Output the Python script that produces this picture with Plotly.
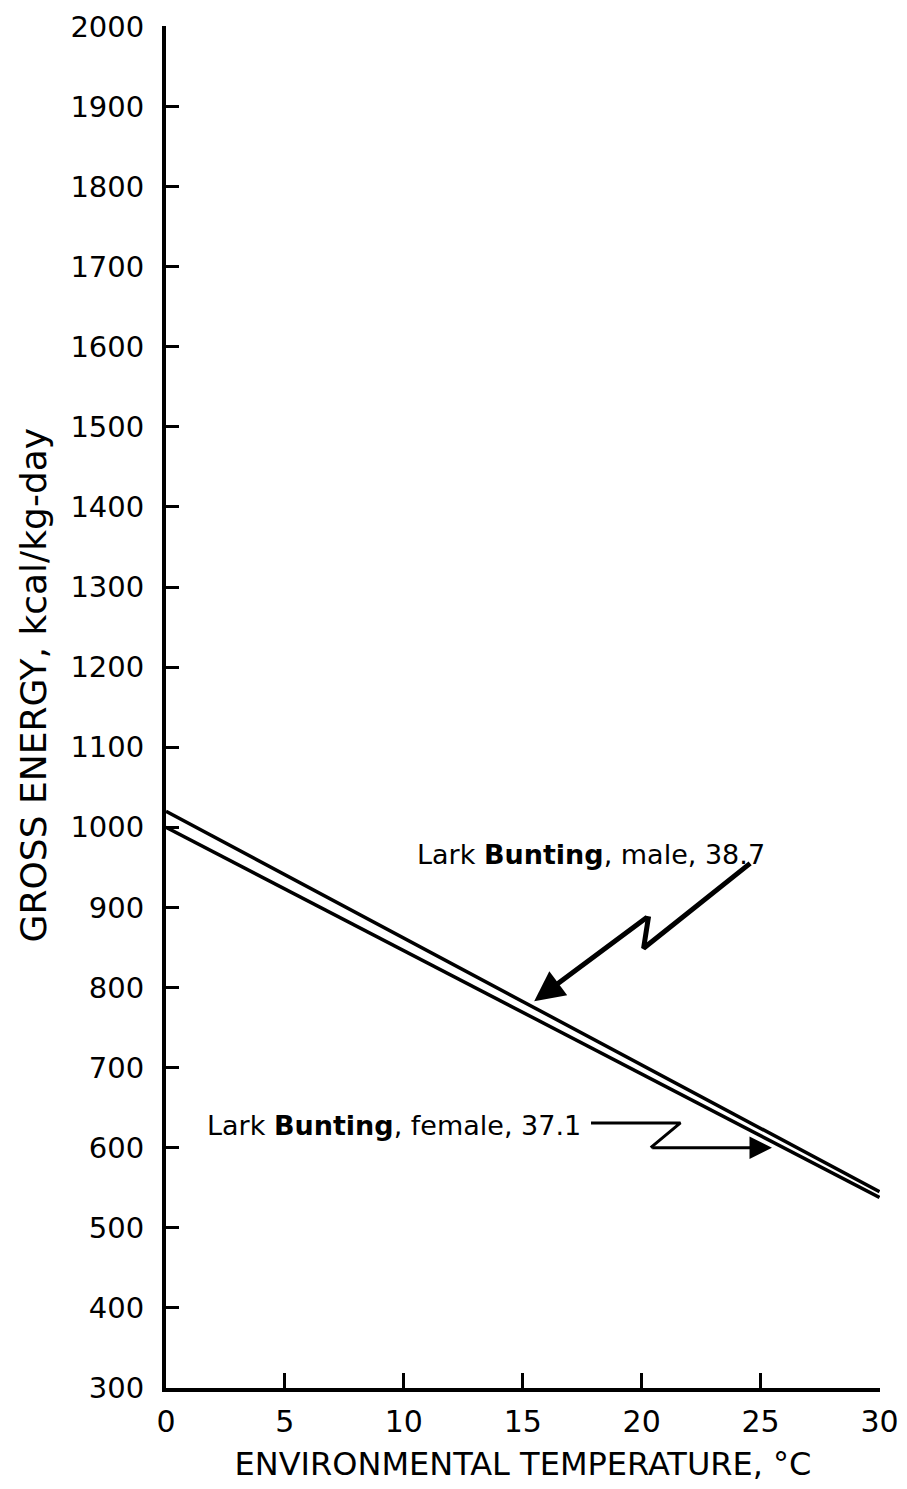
import plotly.graph_objects as go

# Data
temps = [0, 30]
male_energy = [1020, 545]
female_energy = [1000, 538]

x_ticks = [0, 5, 10, 15, 20, 25, 30]
y_ticks = list(range(300, 2001, 100))

male_label = "Lark <b>Bunting</b>, male, 38.7"
female_label = "Lark <b>Bunting</b>, female, 37.1"

# pointer paths (data coords)
male_ptr_x = [24.56, 20.08, 20.29]
male_ptr_y = [955, 849, 889]
male_tip = (15.48, 783)
female_ptr_x = [17.87, 21.63, 20.38]
female_ptr_y = [631, 631, 600]
female_tip = (25.48, 600)

FONT = "DejaVu Sans"

fig = go.Figure()
fig.add_trace(go.Scatter(x=temps, y=male_energy, mode="lines",
                         line=dict(color="black", width=3.5), showlegend=False))
fig.add_trace(go.Scatter(x=temps, y=female_energy, mode="lines",
                         line=dict(color="black", width=3.5), showlegend=False))
fig.add_trace(go.Scatter(x=male_ptr_x, y=male_ptr_y, mode="lines",
                         line=dict(color="black", width=5), showlegend=False))
fig.add_trace(go.Scatter(x=female_ptr_x, y=female_ptr_y, mode="lines",
                         line=dict(color="black", width=3), showlegend=False))

fig.add_annotation(x=male_tip[0], y=male_tip[1], ax=male_ptr_x[-1], ay=male_ptr_y[-1],
                   xref="x", yref="y", axref="x", ayref="y", text="",
                   showarrow=True, arrowhead=2, arrowsize=1.2, arrowwidth=5, arrowcolor="black")
fig.add_annotation(x=female_tip[0], y=female_tip[1], ax=female_ptr_x[-1], ay=female_ptr_y[-1],
                   xref="x", yref="y", axref="x", ayref="y", text="",
                   showarrow=True, arrowhead=2, arrowsize=1.5, arrowwidth=3, arrowcolor="black")

fig.add_annotation(x=17.87, y=966, text=male_label, showarrow=False,
                   font=dict(family=FONT, size=27, color="black"))
fig.add_annotation(x=9.6, y=628, text=female_label, showarrow=False,
                   font=dict(family=FONT, size=27, color="black"))

# y-axis title as rotated annotation
fig.add_annotation(x=-0.186, y=0.516, xref="paper", yref="paper",
                   xanchor="center", yanchor="middle",
                   text="GROSS ENERGY, kcal/kg-day", textangle=-90, showarrow=False,
                   font=dict(family=FONT, size=36, color="black"))

fig.update_layout(
    width=907, height=1489,
    margin=dict(l=158, r=35, t=18, b=109, autoexpand=False),
    paper_bgcolor="white", plot_bgcolor="white",
    font=dict(family=FONT, color="black"),
)
fig.update_xaxes(
    range=[0, 30.02], tickvals=x_ticks, ticktext=[str(v) for v in x_ticks],
    showgrid=False, zeroline=False, showline=True, linecolor="black", linewidth=4,
    ticks="inside", ticklen=15, tickwidth=3, tickcolor="black",
    tickfont=dict(family=FONT, size=30), ticklabelstandoff=4,
    ticklabeloverflow="allow",
    title=dict(text="ENVIRONMENTAL TEMPERATURE, °C", font=dict(family=FONT, size=32), standoff=16),
    automargin=False,
)
fig.update_yaxes(
    range=[300, 2000.5], tickvals=y_ticks, ticktext=[str(v) for v in y_ticks],
    showgrid=False, zeroline=False, showline=True, linecolor="black", linewidth=4,
    ticks="inside", ticklen=13, tickwidth=3, tickcolor="black",
    tickfont=dict(family=FONT, size=29), ticklabelstandoff=12,
    ticklabeloverflow="allow",
    automargin=False,
)

fig.write_html("out.html")
